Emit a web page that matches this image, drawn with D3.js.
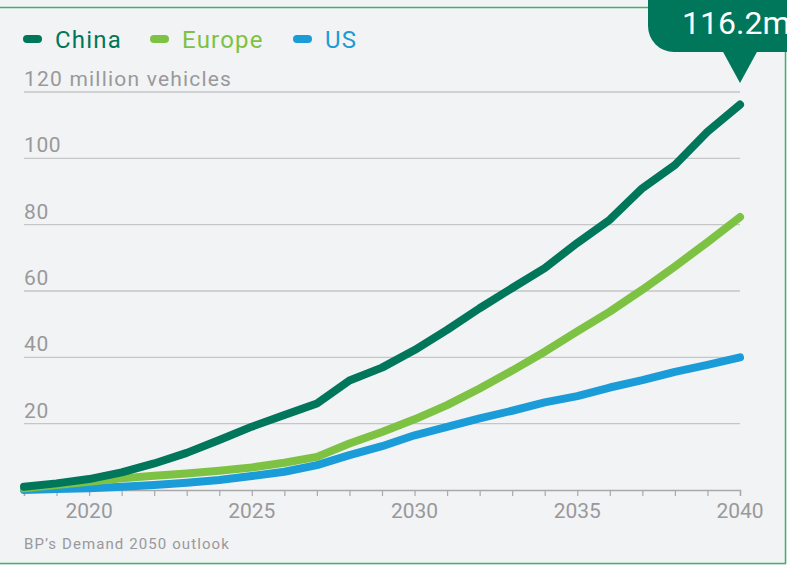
<!DOCTYPE html>
<html>
<head>
<meta charset="utf-8">
<script src="https://cdn.jsdelivr.net/npm/d3@7"></script>
<style>
  html, body { margin: 0; padding: 0; background: #f2f3f5; }
  svg { display: block; font-family: Roboto, "Noto Sans", sans-serif; }
</style>
</head>
<body>
<svg id="chart" width="787" height="565"></svg>
<script>
// data (million vehicles)
const years = d3.range(2018, 2041);
const china = [1.0, 2.0, 3.3, 5.3, 8.0, 11.2, 15.1, 19.1, 22.6, 26.1, 33.0, 36.9, 42.2,
  48.3, 54.8, 60.9, 66.9, 74.5, 81.5, 91.0, 98.0, 108.0, 116.2];
const europe = [0.5, 1.5, 2.5, 3.5, 4.3, 5.0, 5.8, 6.8, 8.2, 10.0, 14.0, 17.5, 21.3,
  25.6, 30.6, 36.0, 41.7, 47.8, 53.8, 60.4, 67.4, 74.7, 82.3];
const us = [0.0, 0.3, 0.5, 1.0, 1.5, 2.2, 3.0, 4.2, 5.5, 7.5, 10.5, 13.2, 16.5,
  19.0, 21.6, 23.9, 26.4, 28.3, 30.9, 33.1, 35.6, 37.7, 40.0];
const yTicks = [20, 40, 60, 80, 100, 120];
const xLabels = [2020, 2025, 2030, 2035, 2040];
const seriesNames = ["China", "Europe", "US"];
const calloutText = "116.2m";

const config = {
  left: 24,
  right: 740,
  top: 92,
  bottom: 490,
  lineWidth: 8,
  colors: { China: "#00765a", Europe: "#7dc243", US: "#1a9cd8" },
  gridColor: "#c6c6c8",
  axisColor: "#a9a9ab",
  textColor: "#99999b",
  borderColor: "#3cb36c",
};

const svg = d3.select("#chart");

const x = d3.scaleLinear().domain([2018, 2040]).range([config.left, config.right]);
const y = d3.scaleLinear().domain([0, 120]).range([config.bottom, config.top]);

// frame
svg.append("line")
  .attr("x1", 0).attr("x2", 650).attr("y1", 7.5).attr("y2", 7.5)
  .attr("stroke", config.borderColor).attr("stroke-width", 1.5);
svg.append("line")
  .attr("x1", 785.5).attr("x2", 785.5).attr("y1", 40).attr("y2", 563.5)
  .attr("stroke", config.borderColor).attr("stroke-width", 1.5);
svg.append("line")
  .attr("x1", 0).attr("x2", 786).attr("y1", 563.5).attr("y2", 563.5)
  .attr("stroke", config.borderColor).attr("stroke-width", 1.5);

// gridlines + y labels
const grid = svg.append("g").attr("class", "grid");
grid.selectAll("line")
  .data(yTicks)
  .join("line")
  .attr("x1", config.left)
  .attr("x2", config.right)
  .attr("y1", (d) => y(d))
  .attr("y2", (d) => y(d))
  .attr("stroke", config.gridColor)
  .attr("stroke-width", 1.4);
grid.selectAll("text")
  .data(yTicks)
  .join("text")
  .attr("x", config.left)
  .attr("y", (d) => y(d) - 6)
  .attr("fill", config.textColor)
  .attr("font-size", 21)
  .attr("letter-spacing", (d) => (d === 120 ? 1.2 : 0.6))
  .text((d) => (d === 120 ? "120 million vehicles" : d));

// x axis
const xAxis = svg.append("g")
  .attr("transform", `translate(0,${config.bottom})`)
  .call(d3.axisBottom(x).tickValues(years).tickSize(6).tickFormat(""));
xAxis.select(".domain").attr("stroke", config.axisColor).attr("stroke-width", 1.4);
xAxis.selectAll(".tick line").attr("stroke", config.axisColor).attr("stroke-width", 1.2);
svg.append("g")
  .selectAll("text")
  .data(xLabels)
  .join("text")
  .attr("x", (d) => x(d))
  .attr("y", 518)
  .attr("text-anchor", "middle")
  .attr("fill", config.textColor)
  .attr("font-size", 21)
  .text((d) => d);

// lines
const seriesData = { China: china, Europe: europe, US: us };
const line = d3.line()
  .x((d, i) => x(years[i]))
  .y((d) => y(d));
svg.append("g")
  .selectAll("path")
  .data(["US", "Europe", "China"])
  .join("path")
  .attr("d", (name) => line(seriesData[name]))
  .attr("fill", "none")
  .attr("stroke", (name) => config.colors[name])
  .attr("stroke-width", config.lineWidth)
  .attr("stroke-linecap", "round")
  .attr("stroke-linejoin", "round");

// legend
const legendX = [27, 154, 297];
const legend = svg.append("g")
  .selectAll("g")
  .data(seriesNames)
  .join("g")
  .attr("transform", (d, i) => `translate(${legendX[i]},39)`);
legend.append("line")
  .attr("x1", 0).attr("x2", 11)
  .attr("stroke", (d) => config.colors[d])
  .attr("stroke-width", 8)
  .attr("stroke-linecap", "round");
legend.append("text")
  .attr("x", 28)
  .attr("y", 8.5)
  .attr("font-size", 24)
  .attr("letter-spacing", 1.2)
  .attr("fill", (d) => config.colors[d])
  .text((d) => d);

// callout bubble at last china point
const lastX = x(2040);
const bubble = svg.append("g");
bubble.append("rect")
  .attr("x", 648).attr("y", -30)
  .attr("width", 200).attr("height", 82)
  .attr("rx", 26)
  .attr("fill", config.colors.China);
bubble.append("path")
  .attr("d", `M ${lastX - 18} 50 L ${lastX + 18} 50 L ${lastX} 83 Z`)
  .attr("fill", config.colors.China);
bubble.append("text")
  .attr("x", 682).attr("y", 34)
  .attr("font-size", 32)
  .attr("fill", "#fff")
  .text(calloutText);

// footer
svg.append("text")
  .attr("x", config.left).attr("y", 549)
  .attr("font-size", 15)
  .attr("letter-spacing", 1.1)
  .attr("fill", config.textColor)
  .text("BP\u2019s Demand 2050 outlook");
</script>
</body>
</html>
